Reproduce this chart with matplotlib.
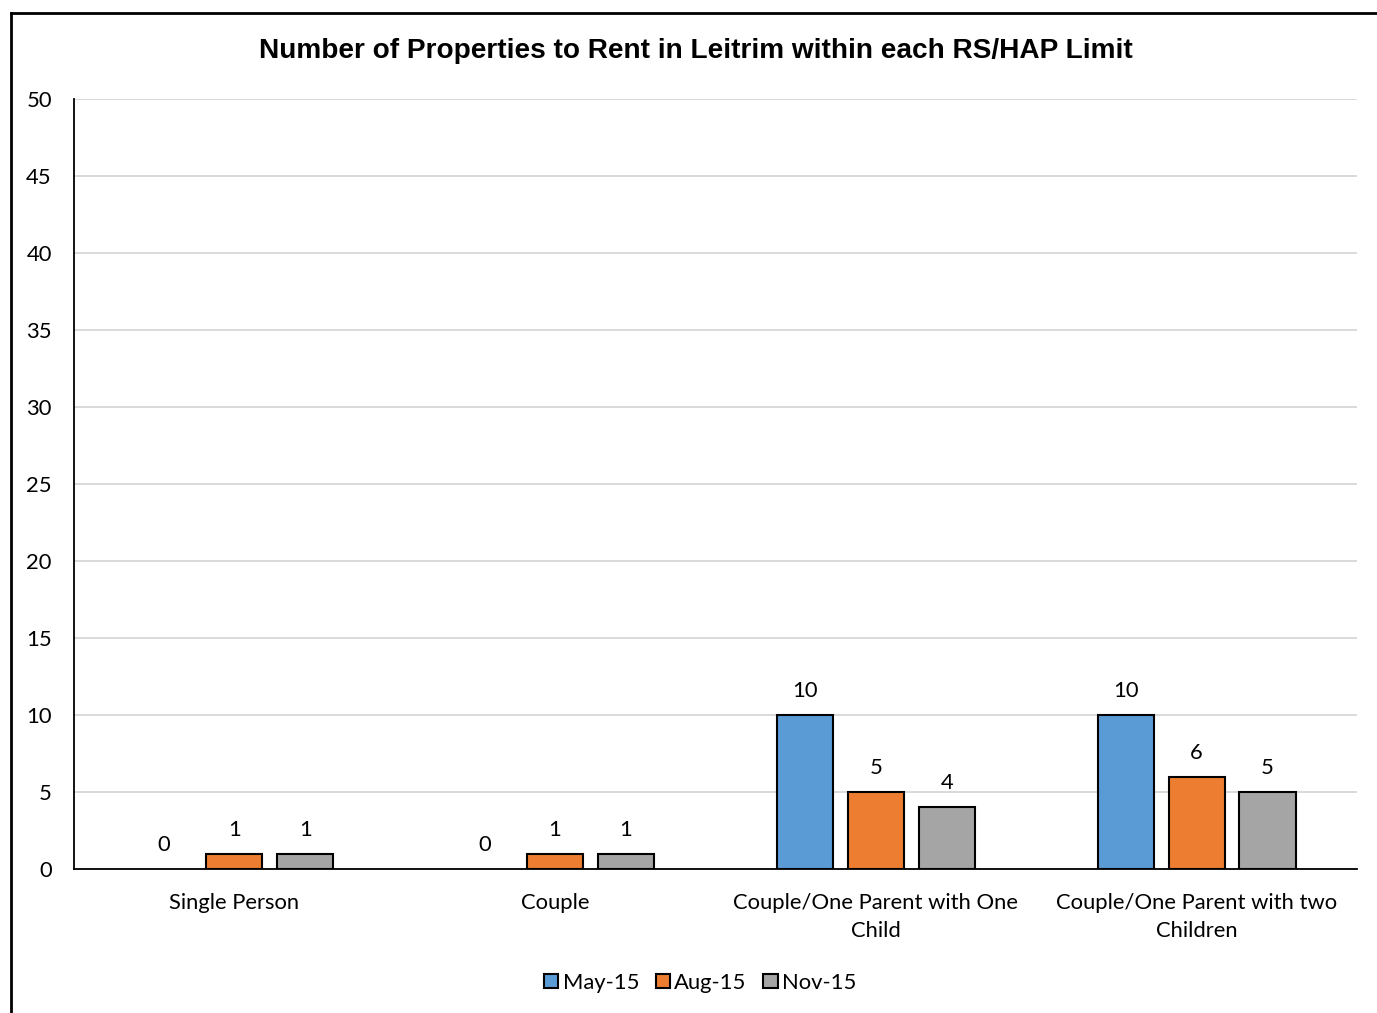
import matplotlib
matplotlib.use("Agg")
import matplotlib.pyplot as plt
from matplotlib.lines import Line2D
from matplotlib.patches import Patch
import numpy as np

categories = ["Single Person", "Couple", "Couple/One Parent with One\nChild",
              "Couple/One Parent with two\nChildren"]
series_names = ["May-15", "Aug-15", "Nov-15"]
may_15 = [0, 0, 10, 10]
aug_15 = [1, 1, 5, 6]
nov_15 = [1, 1, 4, 5]
colors = ["#5b9bd5", "#ed7d31", "#a5a5a5"]
y_ticks = [0, 5, 10, 15, 20, 25, 30, 35, 40, 45, 50]

body_font = "Lato"
body_size = 15.8

fig = plt.figure(figsize=(13.77, 10.13), dpi=100)
ax = fig.add_axes([0.0537, 0.1422, 0.9318, 0.7601])

x = np.arange(len(categories))
width = 0.175
step = 0.221
for i, (vals, name, col) in enumerate(zip([may_15, aug_15, nov_15], series_names, colors)):
    pos = x + (i - 1) * step
    bars = ax.bar(pos, vals, width, color=col, edgecolor="black", linewidth=1.5,
                  label=name, zorder=3)
    for rect, xp, v in zip(bars, pos, vals):
        if v == 0:
            rect.set_linewidth(0)
        ax.annotate(str(v), (xp, v), xytext=(0, 10), textcoords="offset points",
                    ha="center", va="bottom", fontsize=body_size, family=body_font)

ax.set_xlim(-0.5, len(categories) - 0.5)
ax.set_ylim(0, 50)
ax.set_yticks(y_ticks)
ax.set_yticklabels([str(t) for t in y_ticks], family=body_font, fontsize=body_size)
ax.set_xticks(x)
ax.set_xticklabels(categories, family=body_font, fontsize=body_size, linespacing=1.5)
ax.tick_params(axis="both", length=0)
ax.tick_params(axis="y", pad=16)
ax.tick_params(axis="x", pad=17)
ax.grid(axis="y", color="#d9d9d9", linewidth=1.4, zorder=0)
ax.set_axisbelow(True)
for side in ["top", "right"]:
    ax.spines[side].set_visible(False)
ax.spines["left"].set_linewidth(1.3)
ax.spines["bottom"].set_linewidth(1.3)

fig.text(0.5055, 0.950, "Number of Properties to Rent in Leitrim within each RS/HAP Limit",
         ha="center", va="center", fontsize=20.2, fontweight="bold",
         family="Liberation Sans")

legend_handles = [Patch(facecolor=c, edgecolor="black", linewidth=1.5) for c in colors]
fig.legend(handles=legend_handles, labels=series_names, loc="center",
           bbox_to_anchor=(0.5085, 0.030), ncol=3, frameon=False,
           prop={"family": body_font, "size": body_size},
           handlelength=0.65, handleheight=0.65, handletextpad=0.2,
           columnspacing=0.75)

# outer frame of the chart area
fig.add_artist(Line2D([0.0080, 0.0080], [0.0, 0.9875], transform=fig.transFigure,
                      color="black", linewidth=2))
fig.add_artist(Line2D([0.0080, 1.0], [0.9875, 0.9875], transform=fig.transFigure,
                      color="black", linewidth=2))

fig.savefig("out.png", dpi=100, facecolor="white")
